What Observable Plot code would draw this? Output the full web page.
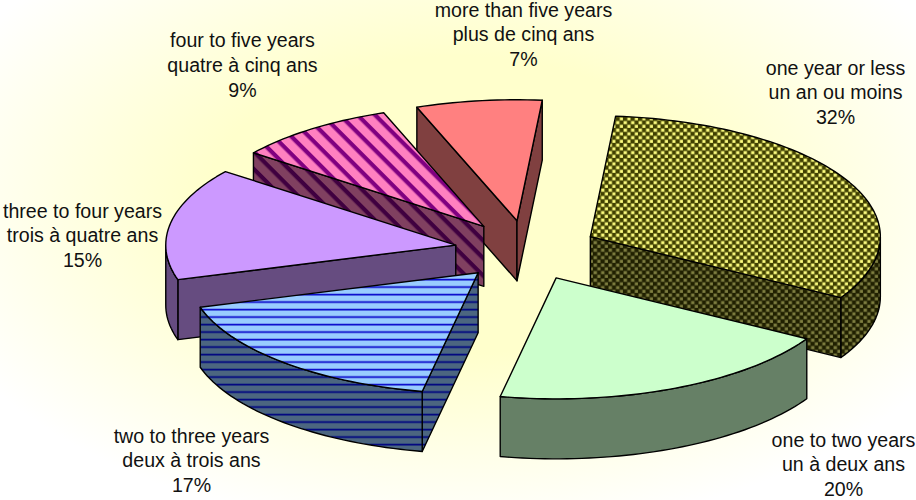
<!DOCTYPE html>
<html>
<head>
<meta charset="utf-8">
<script src="https://cdn.jsdelivr.net/npm/d3@7"></script>
<script src="https://cdn.jsdelivr.net/npm/@observablehq/plot@0.6"></script>
<style>
html,body{margin:0;padding:0;width:916px;height:500px;overflow:hidden;
background:radial-gradient(ellipse 560px 330px at 458px 205px,#ffffcc 0%,#ffffcc 45%,#ffffe8 75%,#ffffff 100%);}
svg{display:block;background:transparent}
</style>
</head>
<body>
<script>
// Data
const english = ["one year or less","one to two years","two to three years","three to four years","four to five years","more than five years"];
const french = ["un an ou moins","un à deux ans","deux à trois ans","trois à quatre ans","quatre à cinq ans","plus de cinq ans"];
const shares = [32,19.7,17.3,15,9,7];
const tops = ["url(#dots)","#CCFFCC","url(#lines)","#CC99FF","url(#stripes)","#FF8080"];
const sides = ["url(#dotsD)","#668066","url(#linesD)","#664C80","url(#stripesD)","#804040"];

// Layout of the pie
const W=916,H=500,cx=526,cy=250,rx=290,ry=121;
const explode=.248,depth=60/ry,startDeg=5;
const labelAt=[[835,91],[843,463],[191,459],[82,234],[242,63.5],[523,33]];
const drawOrder=[5,4,3,2,0,1];

const rad=d=>d*Math.PI/180;
const rim=(o,d,z=0)=>({x:o.x+Math.sin(rad(d)),y:o.y-Math.cos(rad(d))+z});
const total=d3.sum(shares);
let acc=startDeg;
const slices=shares.map((s,i)=>{
  const a0=acc,a1=acc+s/total*360;acc=a1;
  const m=(a0+a1)/2;
  return {i,a0,a1,o:{x:explode*Math.sin(rad(m)),y:-explode*Math.cos(rad(m))}};
});
const arc=(o,a,b,z=0)=>{
  const n=Math.max(2,Math.ceil(Math.abs(b-a)/1.5));
  return d3.range(n+1).map(k=>rim(o,a+(b-a)*k/n,z));
};
const face=(pts,fill)=>Plot.line(pts,{x:"x",y:"y",fill,stroke:"#000",strokeWidth:1.4,strokeLinejoin:"round",curve:"linear-closed"});
const radial=(s,d)=>{
  const e=rim(s.o,d);
  return [s.o,e,{x:e.x,y:e.y+depth},{x:s.o.x,y:s.o.y+depth}];
};
const marks=[];
for(const id of drawOrder){
  const s=slices[id],side=sides[id];
  if(Math.sin(rad(s.a0))<0) marks.push(face(radial(s,s.a0),side));
  if(Math.sin(rad(s.a1))>0) marks.push(face(radial(s,s.a1),side));
  const a=Math.max(s.a0,90),b=Math.min(s.a1,270);
  if(b>a) marks.push(face([...arc(s.o,a,b),...arc(s.o,b,a,depth)],side));
  marks.push(face([s.o,...arc(s.o,s.a0,s.a1)],tops[id]));
}
const labels=shares.map((s,i)=>({
  x:(labelAt[i][0]-cx)/rx,y:(labelAt[i][1]-cy)/ry,
  t:`${english[i]}\n${french[i]}\n${Math.round(s)}%`
}));
marks.push(Plot.text(labels,{x:"x",y:"y",text:"t",fontSize:19.6,lineHeight:24.8/19.6,fill:"#111",lineAnchor:"middle",textAnchor:"middle"}));

const chart=Plot.plot({
  width:W,height:H,margin:0,
  x:{axis:null,domain:[-cx/rx,(W-cx)/rx],range:[0,W]},
  y:{axis:null,domain:[-cy/ry,(H-cy)/ry],range:[0,H]},
  style:{background:"transparent",fontFamily:"'Liberation Sans',Arial,sans-serif",overflow:"visible"},
  marks
});
const pat=(id,w,h,extra,body)=>`<pattern id="${id}" patternUnits="userSpaceOnUse" width="${w}" height="${h}" ${extra}>${body}</pattern>`;
const dots=(bg,mid,fg)=>`<rect width="7.5" height="7.5" fill="${bg}"/>`+
  [[.4,.4],[4.15,4.15]].map(([x,y])=>`<rect x="${x}" y="${y}" width="3.7" height="3.5" fill="${mid}"/><rect x="${x+.6}" y="${y+.6}" width="2.5" height="2.3" fill="${fg}"/>`).join("");
const hl=(bg,soft,fg)=>`<rect width="7.5" height="7.5" fill="${bg}"/><rect y=".4" width="7.5" height="2.4" fill="${soft}"/><rect y="1" width="7.5" height="1.2" fill="${fg}"/>`;
const dg=(bg,fg)=>`<rect width="12.4" height="12.4" fill="${bg}"/><rect width="12.4" height="4.2" fill="${fg}"/>`;
const defs=document.createElementNS("http://www.w3.org/2000/svg","defs");
defs.innerHTML=
  pat("dots",7.5,7.5,"",dots("#404000","#C4C45C","#FFFF80"))+
  pat("dotsD",7.5,7.5,"",dots("#202000","#606030","#808040"))+
  pat("lines",7.5,7.5,"",hl("#99CCFF","#6680E6","#0000CC"))+
  pat("linesD",7.5,7.5,"",hl("#4C6680","#264080","#000080"))+
  pat("stripes",12.4,12.4,'patternTransform="rotate(45)"',dg("#FF80C0","#800080"))+
  pat("stripesD",12.4,12.4,'patternTransform="rotate(45)"',dg("#804060","#400040"));
chart.insertBefore(defs,chart.firstChild);
document.body.appendChild(chart);
</script>
</body>
</html>
